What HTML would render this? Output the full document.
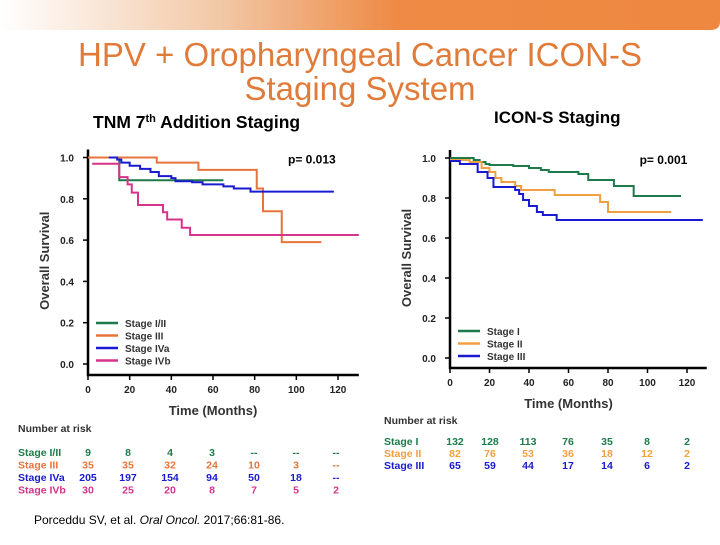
<!DOCTYPE html>
<html><head><meta charset="utf-8"><style>
body{margin:0;width:720px;height:540px;overflow:hidden;background:#fff;font-family:"Liberation Sans",sans-serif}
svg text{font-family:"Liberation Sans",sans-serif}
</style></head><body>
<svg id="s" width="720" height="540" viewBox="0 0 720 540" xmlns="http://www.w3.org/2000/svg">
<defs><linearGradient id="bg" x1="0" x2="1" y1="0" y2="0">
<stop offset="0" stop-color="#fff"/><stop offset="0.3" stop-color="#f2c9a8"/><stop offset="0.55" stop-color="#ee8a45"/><stop offset="1" stop-color="#ee8840"/></linearGradient></defs>
<path d="M0 0H720V22Q720 30 710 30H0Z" fill="url(#bg)"/>
<text x="360" y="66" text-anchor="middle" font-size="33" fill="#e07b39">HPV + Oropharyngeal Cancer ICON-S</text>
<text x="360" y="100" text-anchor="middle" font-size="33" fill="#e07b39">Staging System</text>
<text x="93" y="128" font-size="17.5" font-weight="bold">TNM 7<tspan font-size="11" dy="-6">th</tspan><tspan dy="6"> Addition Staging</tspan></text>
<text x="494" y="123" font-size="17" font-weight="bold">ICON-S Staging</text>
<text x="34" y="524" font-size="12">Porceddu SV, et al. <tspan font-style="italic">Oral Oncol.</tspan> 2017;66:81-86.</text>
<g id="L"></g><g id="R"></g>
</svg>
<script>
const xTicks=[0,20,40,60,80,100,120];
const yTicks=[0,0.2,0.4,0.6,0.8,1.0];
// Left chart data (months, survival)
const leftNames=["Stage I/II","Stage III","Stage IVa","Stage IVb"];
const leftColors=["#1e7a4a","#e8743b","#1a1ad0","#d6338a"];
const leftT1=[0,14,15,65];const leftS1=[1.0,1.0,0.89,0.89];
const leftT2=[0,33,53,81,84,93,112];const leftS2=[1.0,0.975,0.94,0.85,0.74,0.59,0.59];
const leftT3=[10,14,16,20,25,30,34,40,42,50,55,65,70,78,118];const leftS3=[1.0,0.99,0.975,0.96,0.945,0.93,0.91,0.9,0.885,0.88,0.87,0.86,0.85,0.835,0.835];
const leftT4=[2,14,15,19,21,24,36,38,45,49,130];const leftS4=[0.97,0.97,0.905,0.87,0.83,0.77,0.735,0.70,0.66,0.625,0.625];
const leftRisk=[["9","8","4","3","--","--","--"],["35","35","32","24","10","3","--"],["205","197","154","94","50","18","--"],["30","25","20","8","7","5","2"]];
// Right chart data
const rightNames=["Stage I","Stage II","Stage III"];
const rightColors=["#1e7a4a","#f0a040","#1a1ad0"];
const rightT1=[0,12,15,18,20,32,40,46,50,65,70,83,93,117];const rightS1=[1.0,0.99,0.98,0.97,0.965,0.96,0.95,0.94,0.93,0.92,0.89,0.86,0.81,0.81];
const rightT2=[0,10,16,20,23,26,33,36,53,76,80,112];const rightS2=[0.99,0.98,0.95,0.93,0.9,0.88,0.86,0.84,0.815,0.78,0.73,0.73];
const rightT3=[0,5,14,19,22,33,35,37,40,44,47,54,128];const rightS3=[0.985,0.97,0.93,0.9,0.855,0.84,0.82,0.79,0.76,0.73,0.715,0.69,0.69];
const rightRisk=[["132","128","113","76","35","8","2"],["82","76","53","36","18","12","2"],["65","59","44","17","14","6","2"]];
const NS="http://www.w3.org/2000/svg";
function mk(p,tag,a,txt){const e=document.createElementNS(NS,tag);for(const k in a)e.setAttribute(k,a[k]);if(txt!==undefined)e.textContent=txt;p.appendChild(e);return e;}
function chart(g,c,names,colors,Ts,Ss,p,risk){
 const X=v=>c.x0+v*c.sx, Y=v=>c.y1-v*c.sy;
 let e=mk(g,'path',{d:`M${c.x0} ${c.y1-c.sy-8}V${c.ax}H${X(130)}`,fill:'none',stroke:'#000','stroke-width':2.5});
 
 
 yTicks.forEach(v=>{mk(g,'line',{x1:c.x0-5,x2:c.x0,y1:Y(v),y2:Y(v),stroke:'#000','stroke-width':1.5});
  e=mk(g,'text',{x:c.x0-14,y:Y(v)+4,'text-anchor':'end','font-size':10,'font-weight':'bold',fill:'#222'},v.toFixed(1));
  
  });
 xTicks.forEach(v=>{mk(g,'line',{x1:X(v),x2:X(v),y1:c.ax,y2:c.ax+5,stroke:'#000','stroke-width':1.5});
  e=mk(g,'text',{x:X(v),y:c.ax+18,'text-anchor':'middle','font-size':10,'font-weight':'bold',fill:'#222'},v);
  
  });
 e=mk(g,'text',{x:X(60),y:c.ax+40,'text-anchor':'middle','font-size':13,'font-weight':'bold',fill:'#333'},'Time (Months)');
 
 
 e=mk(g,'text',{x:0,y:0,'text-anchor':'middle','font-size':13,'font-weight':'bold',fill:'#333',transform:`translate(${c.x0-39},${Y(0.5)}) rotate(-90)`},'Overall Survival');
 
 
 e=mk(g,'text',{x:X(96),y:Y(1)+6,'font-size':12,'font-weight':'bold'},p);
 
 
 Ts.forEach((T,i)=>{let d=`M${X(T[0])} ${Y(Ss[i][0])}`;for(let k=1;k<T.length;k++){d+=`H${X(T[k])}V${Y(Ss[i][k])}`;}
  e=mk(g,'path',{d,fill:'none',stroke:colors[i],'stroke-width':2});
  
  
  const ly=c.legY+i*12.5;
  mk(g,'line',{x1:c.x0+8,x2:c.x0+30,y1:ly,y2:ly,stroke:colors[i],'stroke-width':2.5});
  e=mk(g,'text',{x:c.x0+37,y:ly+4,'font-size':10,'font-weight':'bold',fill:'#333'},names[i]);
  
  
  e=mk(g,'text',{x:c.rl,y:c.ry+i*c.rdy,'font-size':10.5,'font-weight':'bold',fill:colors[i]},names[i]);
  
  
  risk[i].forEach((v,j)=>{e=mk(g,'text',{x:c.rc[j],y:c.ry+i*c.rdy,'font-size':10.5,'font-weight':'bold','text-anchor':'middle',fill:colors[i]},v);
   
   });
 });
 e=mk(g,'text',{x:c.rl,y:c.nh,'font-size':10.5,'font-weight':'bold',fill:'#333'},'Number at risk');
 
 
}
chart(document.getElementById('L'),{x0:88,sx:250/120,y1:364,sy:206.5,ax:375,legY:323,rl:18,ry:456,rdy:12.5,rc:[88,128,170,212,254,296,336],nh:432},
 leftNames,leftColors,[leftT1,leftT2,leftT3,leftT4],[leftS1,leftS2,leftS3,leftS4],'p= 0.013',leftRisk);
chart(document.getElementById('R'),{x0:450,sx:237/120,y1:358,sy:200,ax:368,legY:331,rl:384,ry:445,rdy:12,rc:[455,490,528,568,607,647,687],nh:424},
 rightNames,rightColors,[rightT1,rightT2,rightT3],[rightS1,rightS2,rightS3],'p= 0.001',rightRisk);
</script>
</body></html>
